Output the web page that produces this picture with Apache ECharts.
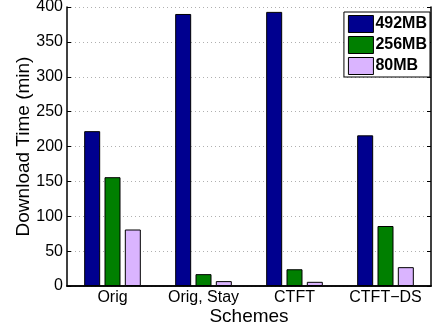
<!DOCTYPE html>
<html>
<head>
<meta charset="utf-8">
<script src="https://cdn.jsdelivr.net/npm/echarts@6/dist/echarts.min.js"></script>
<style>
  html, body { margin: 0; padding: 0; background: #fff; }
  #chart { width: 438px; height: 330px; }
</style>
</head>
<body>
<div id="chart"></div>
<script>
// Download time per scheme for three file sizes
const schemes = ['Orig', 'Orig, Stay', 'CTFT', 'CTFT\u2212DS'];
const size492 = [222, 390, 393, 216];
const size256 = [156, 17, 24, 86];
const size80 = [81, 7, 6, 27];
const seriesNames = ['492MB', '256MB', '80MB'];
const seriesColors = ['#00008F', '#007F00', '#DAB4FF'];
const yTicks = { min: 0, max: 400, interval: 50 };

const font = '"Liberation Sans", Arial, Helvetica, sans-serif';

const chart = echarts.init(document.getElementById('chart'), null, { renderer: 'canvas' });

const barSeries = [size492, size256, size80].map((vals, i) => ({
  name: seriesNames[i],
  type: 'bar',
  data: vals,
  barWidth: 16,
  barGap: '27%',
  itemStyle: { color: seriesColors[i], borderColor: '#000', borderWidth: 1 },
  emphasis: { disabled: true }
}));

chart.setOption({
  animation: false,
  backgroundColor: '#fff',
  textStyle: { fontFamily: font },
  grid: { left: 67, top: 7, right: 7, bottom: 44, containLabel: false, outerBoundsMode: 'none' },
  legend: {
    data: seriesNames,
    orient: 'vertical',
    right: 8,
    top: 12,
    padding: [3, 3, 2, 4],
    itemGap: 3,
    itemWidth: 25,
    itemHeight: 17,
    icon: 'rect',
    backgroundColor: '#fff',
    borderColor: '#000',
    borderWidth: 1,
    borderRadius: 0,
    itemStyle: { borderColor: '#000', borderWidth: 1 },
    textStyle: { fontFamily: font, fontWeight: 'bold', fontSize: 16, color: '#000', padding: [0, 0, 0, -3] }
  },
  xAxis: [{
    type: 'category',
    data: schemes,
    name: 'Schemes',
    nameLocation: 'middle',
    nameGap: 21,
    nameMoveOverlap: false,
    nameTextStyle: { fontSize: 19, color: '#000', fontFamily: font },
    axisLine: { lineStyle: { color: '#000', width: 1.5 } },
    axisTick: { inside: true, alignWithLabel: true, length: 4, lineStyle: { color: '#000' } },
    axisLabel: { interval: 0, hideOverlap: false, fontSize: 16, color: '#000', margin: 4, fontFamily: font },
    splitLine: { show: false }
  }, {
    type: 'category',
    data: schemes,
    position: 'top',
    axisLine: { lineStyle: { color: '#000', width: 1.5 } },
    axisTick: { inside: true, alignWithLabel: true, interval: 0, length: 4, lineStyle: { color: '#000' } },
    axisLabel: { show: false, interval: 0 },
    splitLine: { show: false }
  }],
  yAxis: [{
    type: 'value',
    min: yTicks.min,
    max: yTicks.max,
    interval: yTicks.interval,
    name: 'Download Time (min)',
    nameLocation: 'middle',
    nameGap: 34,
    nameMoveOverlap: false,
    nameTextStyle: { fontSize: 19, color: '#000', fontFamily: font },
    axisLine: { show: true, lineStyle: { color: '#000', width: 1.5 } },
    axisTick: { show: true, inside: true, length: 4, lineStyle: { color: '#000' } },
    axisLabel: { fontSize: 16, color: '#000', margin: 4, fontFamily: font },
    splitLine: { show: true, lineStyle: { color: '#b0b0b0', type: [1, 3], width: 1 } }
  }, {
    type: 'value',
    min: yTicks.min,
    max: yTicks.max,
    interval: yTicks.interval,
    position: 'right',
    axisLine: { show: true, lineStyle: { color: '#000', width: 1.5 } },
    axisTick: { show: true, inside: true, length: 4, lineStyle: { color: '#000' } },
    axisLabel: { show: false },
    splitLine: { show: false }
  }],
  series: barSeries
});
</script>
</body>
</html>
